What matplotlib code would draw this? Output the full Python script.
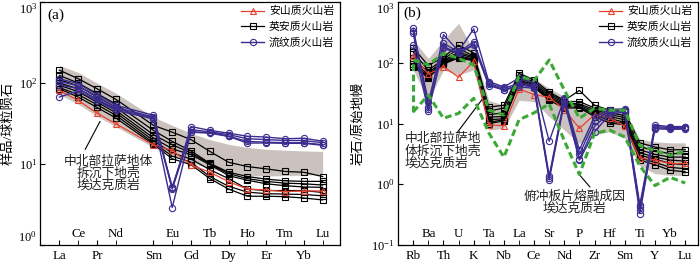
import matplotlib.pyplot as plt
import numpy as np
from matplotlib.ticker import NullLocator

# ==========================================================
# DATA  (a) chondrite-normalised REE
# ==========================================================

ree = ["La", "Ce", "Pr", "Nd", "Sm", "Eu", "Gd", "Tb",
       "Dy", "Ho", "Er", "Tm", "Yb", "Lu"]
ree_pos = [0, 1, 2, 3, 5, 6, 7, 8, 9, 10, 11, 12, 13, 14]   # gap for Pm

andesite_ree = [81, 61, 42.5, 31.4, 17.2, 14.7, 9.75, 7.9, 6.05, 4.9, 4.78, 4.55, 4.65, 4.65]

dacite_ree = [
    [144, 113, 85, 63, 30, 24.7, 20, 14.3, 10.5, 9.3, 8.7, 8.1, 7.9, 7.0],
    [124, 100, 74, 55, 26, 19, 14.5, 10.2, 7.9, 7.0, 6.5, 6.2, 6.1, 6.1],
    [110, 92, 68, 50, 23, 17.3, 13.7, 10.0, 7.6, 6.6, 6.1, 5.8, 5.7, 5.5],
    [100, 85, 63, 46, 21, 15.4, 13.0, 9.8, 7.2, 6.3, 5.7, 5.4, 5.2, 5.15],
    [94, 78, 58, 43, 19.5, 13.7, 11.5, 8.5, 6.6, 4.9, 4.7, 4.7, 4.7, 4.45],
    [88, 72, 54, 40, 18.3, 12.5, 10.5, 7.0, 5.3, 4.5, 4.3, 4.25, 4.2, 4.05],
    [85, 67, 50, 37, 17.5, 11.6, 9.8, 6.6, 4.9, 4.0, 4.0, 3.95, 3.8, 3.6],
]

rhyolite_ree = [
    [113, 98, 72, 53, 40, 5.0, 29, 26, 24, 22, 21.5, 20.5, 20.8, 19.1],
    [105, 92, 67, 50, 38, 5.2, 26.5, 25, 23, 20.5, 20, 19.5, 19.5, 18.3],
    [95, 85, 63, 48, 37, 4.9, 25, 24.5, 22, 19, 18.6, 18.3, 18.3, 17.3],
    [67, 80, 60, 46, 36, 2.9, 24.7, 24, 21.9, 18.1, 18.2, 18.0, 18.0, 17.0],
]

field_ree_hi = [165, 135, 100, 75, 38, 30, 24, 20, 17.5, 16, 15.2, 14.8, 14.5, 14.3]
field_ree_lo = [72, 55, 39, 29, 16, 13, 10.5, 8.8, 7.8, 7.2, 7.1, 7.2, 7.3, 7.4]

# ==========================================================
# DATA  (b) primitive-mantle-normalised trace elements
# ==========================================================

trace = ["Rb", "Ba", "Th", "U", "K", "Ta", "Nb", "La", "Ce", "Sr",
         "Nd", "P", "Zr", "Hf", "Sm", "Ti", "Y", "Yb", "Lu"]
trace_pos = list(range(len(trace)))

andesite_tr = [130, 65, 86, 58, 105, 9.5, 9.2, 37, 30, 27, 17, 8.3, 14, 12.5, 9, 2.7, 2.5, 2.2, 2.2]

dacite_tr = [
    [175, 90, 124, 195, 145, 18.6, 20, 67, 52, 33, 24, 35, 20, 16.6, 15.6, 4.8, 4.1, 3.7, 3.7],
    [150, 75, 115, 170, 130, 16, 18, 62, 48, 31, 23, 23, 18, 15, 13.5, 4.2, 3.5, 3.2, 3.2],
    [120, 68, 108, 150, 125, 14, 15, 57, 45, 29, 22, 21, 17, 14, 12.5, 3.7, 3.1, 2.8, 2.8],
    [105, 63, 104, 140, 120, 12.8, 13, 53, 43, 27, 21, 20, 16, 13, 11.5, 3.3, 2.8, 2.5, 2.4],
    [95, 60, 100, 130, 115, 11.5, 12, 50, 41, 26, 20, 19, 15, 12, 10.5, 3.0, 2.6, 2.2, 2.1],
    [90, 58, 99, 124, 111, 10.5, 11.5, 48, 40, 25, 19, 18.5, 14, 11, 10, 2.7, 2.3, 1.9, 1.8],
    [85, 57, 95, 120, 108, 10, 11, 46, 40, 24, 18, 18, 13, 10.2, 9.5, 2.5, 2.1, 1.7, 1.6],
]

rhyolite_tr = [
    [370, 19, 290, 155, 360, 49, 40, 56, 47, 5.1, 26, 3.7, 13, 17, 17.5, 0.46, 9.4, 8.9, 8.9],
    [330, 23, 210, 150, 220, 46, 38, 46, 42, 1.37, 25, 3.1, 11, 16, 16.5, 0.42, 8.9, 8.6, 8.6],
    [305, 17.6, 185, 143, 200, 44, 36, 43, 40, 1.27, 24, 2.6, 9, 15, 16, 0.33, 8.5, 8.3, 8.3],
    [195, 16, 173, 143, 195, 42, 35.6, 40, 38, 1.18, 22, 2.5, 7.3, 14, 15.5, 0.38, 8.2, 8.0, 8.1],
]

field_tr_hi = [237, 118, 237, 446, 162, 24, 20, 70, 55, 38, 28, 16, 19, 17.8, 15.6, 5.5, 5.0, 4.8, 4.8]
field_tr_lo = [76, 24, 76, 63, 76, 7.8, 8.3, 24, 23, 13, 7.8, 4.7, 6.5, 7.3, 5.7, 2.0, 1.5, 1.4, 1.4]

slab_hi = [111, 92, 143, 118, 92, 16.6, 13.8, 60, 51, 111, 35.6, 12.2, 17.8, 16.6, 16.6, 4.3, 3.6, 3.0, 3.5]
slab_lo = [15.6, 29.4, 12.2, 14.7, 26, 7, 2.8, 11.5, 15, 21, 5.2, 1.45, 6.9, 7.8, 6.0, 2.0, 0.95, 1.3, 1.05]

labels = ["安山质火山岩", "英安质火山岩", "流纹质火山岩"]

# ==========================================================
# STYLE
# ==========================================================

plt.rcParams.update({
    "font.family": ["Liberation Serif", "Noto Sans CJK SC"],
    "mathtext.fontset": "stix",
    "font.size": 9.5,
    "axes.linewidth": 0.9,
})

RED = "#e8402f"
PURPLE = "#3b2d8f"
GREEN = "#3aa935"
FIELD = "#cbc2bd"

fig = plt.figure(figsize=(7, 2.62), dpi=100)
ax1 = fig.add_axes([40 / 700, 17 / 262, 300 / 700, 243 / 262])
ax2 = fig.add_axes([397.7 / 700, 17 / 262, 300.3 / 700, 243 / 262])


def draw_groups(ax, x, andesite, dacite, rhyolite):
    for i, row in enumerate(dacite):
        ax.plot(x, row, color="black", lw=0.9, marker="s", ms=4,
                mfc="none", mew=0.8, zorder=3,
                label=labels[1] if i == 0 else None)
    ax.plot(x, andesite, color=RED, lw=0.9, marker="^", ms=4,
            mfc="none", mew=0.8, zorder=4, label=labels[0])
    for i, row in enumerate(rhyolite):
        ax.plot(x, row, color=PURPLE, lw=1.0, marker="o", ms=4.5,
                mfc="none", mew=0.8, zorder=5,
                label=labels[2] if i == 0 else None)


def format_axis(ax, x, names, yticks, xlim):
    ax.set_yscale("log")
    ax.set_yticks(yticks)
    ax.set_ylim(yticks[0], yticks[-1])
    ax.set_xlim(*xlim)
    ax.yaxis.set_minor_locator(NullLocator())
    ax.set_xticks(x[0::2], names[0::2])
    ax.set_xticks(x[1::2], names[1::2], minor=True)
    ax.tick_params(axis="x", which="major", direction="in", length=3.5,
                   pad=3.8, labelsize=9.3)
    ax.tick_params(axis="x", which="minor", direction="in", length=3.5,
                   pad=-12.3, labelsize=9.3)
    ax.tick_params(axis="y", direction="in", length=3.5, pad=2, labelsize=9)
    # keep the top decade label inside the figure
    ax.get_yticklabels()[-1].set_va("top")
    handles, labs = ax.get_legend_handles_labels()
    order = [labs.index(l) for l in labels]
    ax.legend([handles[k] for k in order], labels, loc="upper right",
              bbox_to_anchor=(0.995, 1.0), frameon=False, fontsize=7.8,
              handlelength=2.1, handletextpad=0.45, labelspacing=0.5,
              borderaxespad=0, numpoints=1)


# ---------------- (a) ----------------
ax1.fill_between(ree_pos, field_ree_lo, field_ree_hi, color=FIELD, lw=0, zorder=1)
draw_groups(ax1, ree_pos, andesite_ree, dacite_ree, rhyolite_ree)
format_axis(ax1, ree_pos, ree, [1, 10, 100, 1000], (-1.03, 14.92))
ax1.get_yticklabels()[0].set_va("bottom")
ax1.set_ylabel("样品/球粒陨石", fontsize=9.5)
ax1.yaxis.set_label_coords(-0.085, 0.5)
ax1.text(0.023, 0.947, "(a)", transform=ax1.transAxes, fontsize=11,
         ha="left", va="center")

ax1.annotate("", xy=(2.16, 33.5), xytext=(1.37, 15.1),
             arrowprops=dict(arrowstyle="-", lw=0.8, color="black",
                             shrinkA=0, shrinkB=0))
ax1.text(2.6, 7.5, "中北部拉萨地体\n拆沉下地壳\n埃达克质岩", ha="center",
         va="center", fontsize=9.2, linespacing=0.95, color="#222222")

# ---------------- (b) ----------------
ax2.fill_between(trace_pos, field_tr_lo, field_tr_hi, color=FIELD, lw=0, zorder=1)
draw_groups(ax2, trace_pos, andesite_tr, dacite_tr, rhyolite_tr)
dash = (0, (2.2, 1.2))
ax2.plot(trace_pos, slab_hi, color=GREEN, lw=2.2, ls=dash, zorder=6)
ax2.plot(trace_pos, slab_lo, color=GREEN, lw=2.2, ls=dash, zorder=6)
ax2.plot([trace_pos[0], trace_pos[0]], [slab_lo[0], slab_hi[0]],
         color=GREEN, lw=2.2, ls=dash, zorder=6)
format_axis(ax2, trace_pos, trace, [0.1, 1, 10, 100, 1000], (-1.03, 18.85))
ax2.set_ylabel("岩石/原始地幔", fontsize=9.5)
ax2.yaxis.set_label_coords(-0.11, 0.5)
ax2.text(0.018, 0.953, "(b)", transform=ax2.transAxes, fontsize=11,
         ha="left", va="center")

ax2.annotate("", xy=(4.68, 27.3), xytext=(2.89, 7.0),
             arrowprops=dict(arrowstyle="-", lw=0.8, color="black",
                             shrinkA=0, shrinkB=0))
ax2.text(-0.55, 3.46, "中北部拉萨地\n体拆沉下地壳\n埃达克质岩", ha="left",
         va="center", fontsize=9.2, linespacing=1.0, color="#222222")

ax2.annotate("", xy=(10.9, 1.53), xytext=(11.7, 0.90),
             arrowprops=dict(arrowstyle="-", lw=0.8, color="black",
                             shrinkA=0, shrinkB=0))
ax2.text(10.68, 0.497, "俯冲板片熔融成因\n埃达克质岩", ha="center",
         va="center", fontsize=9.2, linespacing=0.95, color="#222222")

plt.savefig("out.png", dpi=100)
